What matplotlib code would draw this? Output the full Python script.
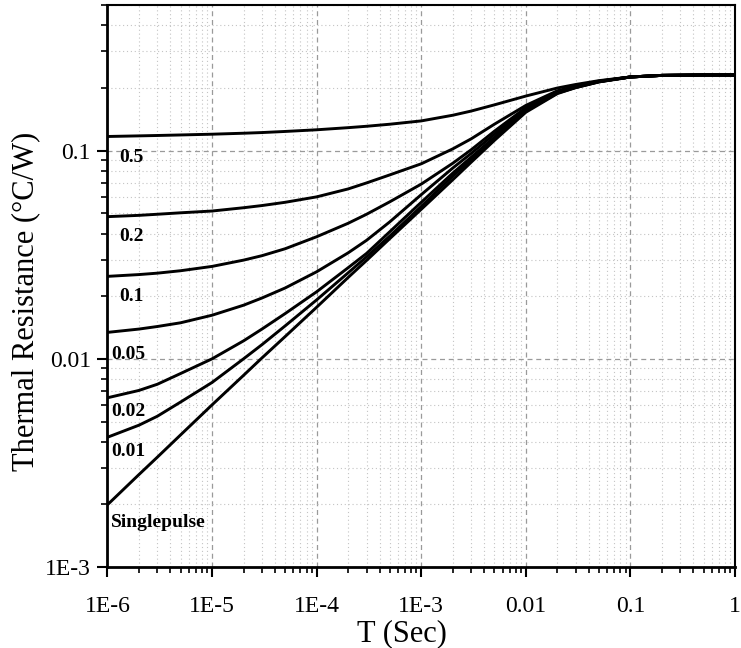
import matplotlib
matplotlib.use("Agg")
import matplotlib.pyplot as plt
from matplotlib.ticker import LogLocator, FixedLocator, NullFormatter

plt.rcParams['font.family'] = ['Liberation Serif', 'DejaVu Serif']

# pulse width (s)
t = [1e-6, 2e-6, 3e-6, 5e-6, 1e-5, 2e-5, 3e-5, 5e-5, 1e-4, 2e-4, 3e-4, 5e-4,
     1e-3, 2e-3, 3e-3, 5e-3, 1e-2, 2e-2, 3e-2, 5e-2, 0.1, 0.2, 0.5, 1.0]

# thermal resistance for each duty cycle (C/W)
z_d50 = [0.1170, 0.1178, 0.1183, 0.1190, 0.1200, 0.1213, 0.1222, 0.1237, 0.1260, 0.1290, 0.1310, 0.1340,
         0.139, 0.148, 0.155, 0.166, 0.183, 0.200, 0.208, 0.217, 0.226, 0.230, 0.231, 0.231]
z_d20 = [0.0482, 0.0489, 0.0495, 0.0503, 0.0513, 0.0532, 0.0545, 0.0565, 0.0600, 0.0655, 0.0700, 0.0765,
         0.0865, 0.102, 0.114, 0.134, 0.165, 0.194, 0.204, 0.216, 0.226, 0.230, 0.231, 0.231]
z_d10 = [0.0249, 0.0254, 0.0258, 0.0265, 0.0278, 0.0298, 0.0313, 0.0338, 0.0386, 0.0448, 0.0495, 0.0568,
         0.0691, 0.087, 0.101, 0.124, 0.161, 0.192, 0.203, 0.215, 0.226, 0.230, 0.231, 0.231]
z_d05 = [0.0134, 0.0139, 0.0143, 0.0149, 0.0162, 0.0181, 0.0196, 0.0219, 0.0262, 0.0323, 0.0371, 0.0455,
         0.0615, 0.0825, 0.097, 0.120, 0.159, 0.191, 0.202, 0.215, 0.226, 0.230, 0.231, 0.231]
z_d02 = [0.0065, 0.00705, 0.00755, 0.0085, 0.0100, 0.0122, 0.0139, 0.0165, 0.0210, 0.0274, 0.0321, 0.0408,
         0.0565, 0.078, 0.093, 0.116, 0.157, 0.190, 0.202, 0.215, 0.226, 0.230, 0.231, 0.231]
z_d01 = [0.0042, 0.0048, 0.0053, 0.0062, 0.0077, 0.0100, 0.0117, 0.0144, 0.0192, 0.0259, 0.0309, 0.0389,
         0.0540, 0.0755, 0.0905, 0.114, 0.155, 0.189, 0.201, 0.214, 0.226, 0.230, 0.231, 0.231]
z_single = [0.00199, 0.00278, 0.00337, 0.00431, 0.00601, 0.00833, 0.0101, 0.0128, 0.0177, 0.0246, 0.0297, 0.0378,
            0.0523, 0.0725, 0.088, 0.112, 0.153, 0.188, 0.201, 0.214, 0.226, 0.230, 0.231, 0.231]

curves = [z_d50, z_d20, z_d10, z_d05, z_d02, z_d01, z_single]
curve_labels = ["0.5", "0.2", "0.1", "0.05", "0.02", "0.01", "Singlepulse"]
label_x = [1.3e-6, 1.3e-6, 1.3e-6, 1.08e-6, 1.08e-6, 1.08e-6, 1.08e-6]
label_y = [0.093, 0.0385, 0.0199, 0.0105, 0.0056, 0.0036, 0.00164]

xticks = [1e-6, 1e-5, 1e-4, 1e-3, 1e-2, 1e-1, 1]
xtick_labels = ["1E-6", "1E-5", "1E-4", "1E-3", "0.01", "0.1", "1"]
yticks = [1e-3, 1e-2, 1e-1]
ytick_labels = ["1E-3", "0.01", "0.1"]

fig = plt.figure(figsize=(7.41, 6.48), dpi=100)
ax = fig.add_axes([0.145, 0.125, 0.847, 0.867])

for z in curves:
    ax.plot(t, z, color="black", lw=2.1, solid_capstyle="butt", solid_joinstyle="round")

for txt, lx, ly in zip(curve_labels, label_x, label_y):
    ax.text(lx, ly, txt, fontsize=14, fontweight="bold", ha="left", va="center")

ax.set_xscale("log")
ax.set_yscale("log")
ax.set_xlim(1e-6, 1)
ax.set_ylim(1e-3, 0.5)

ax.xaxis.set_major_locator(FixedLocator(xticks))
ax.set_xticklabels(xtick_labels)
ax.yaxis.set_major_locator(FixedLocator(yticks))
ax.set_yticklabels(ytick_labels)
ax.xaxis.set_minor_locator(LogLocator(base=10, subs=range(2, 10), numticks=20))
ax.yaxis.set_minor_locator(LogLocator(base=10, subs=range(2, 10), numticks=20))
ax.xaxis.set_minor_formatter(NullFormatter())
ax.yaxis.set_minor_formatter(NullFormatter())

ax.grid(which="major", color="#9a9a9a", linestyle=(0, (4, 3)), linewidth=0.9)
ax.grid(which="minor", color="#c4c4c4", linestyle=(0, (1, 2.5)), linewidth=0.8)
ax.set_axisbelow(True)

ax.tick_params(which="major", direction="out", length=7, width=1.5, labelsize=17)
ax.tick_params(axis="x", which="major", pad=14)
ax.tick_params(axis="y", which="major", pad=5)
ax.tick_params(which="minor", direction="out", length=4, width=1.2)
for side in ["left", "bottom"]:
    ax.spines[side].set_linewidth(2.0)
for side in ["top", "right"]:
    ax.spines[side].set_linewidth(1.5)

ax.set_xlabel("T (Sec)", fontsize=22, va="center")
ax.xaxis.set_label_coords(0.47, -0.118)
ax.set_ylabel("Thermal Resistance (°C/W)", fontsize=22, va="center")
ax.yaxis.set_label_coords(-0.131, 0.473)

fig.savefig("out.png", dpi=100)
